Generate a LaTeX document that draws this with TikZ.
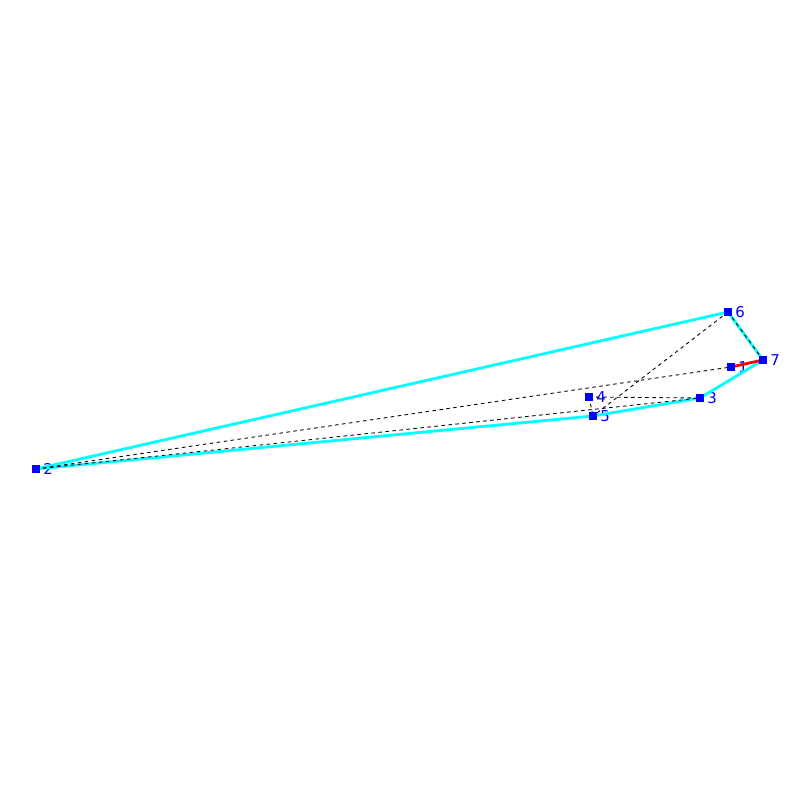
\documentclass[tikz,border=0pt]{standalone}
\usepackage{fontspec}
\setmainfont{DejaVu Sans}
\usepackage{tikz}
\usetikzlibrary{positioning}
\definecolor{hullcyan}{RGB}{0,255,255}

\begin{document}
\begin{tikzpicture}[x=0.02cm,y=-0.02cm,
  vertex/.style={fill=blue,minimum size=0.16cm,inner sep=0pt},
  num/.style={text=blue,font=\fontsize{8.5}{8.5}\selectfont,inner sep=0pt},
  hull/.style={hullcyan,line width=1.6pt},
  chosen/.style={red,line width=1.6pt},
  hint/.style={dashed,line width=0.5pt,dash pattern=on 2pt off 2pt},
  every label/.style={num},label distance=1.5pt]
\useasboundingbox (0,0) rectangle (800,800);
\node[vertex,label=right:1] (v1) at (731,367) {};
\node[vertex,label=right:2] (v2) at (36,469) {};
\node[vertex,label=right:3] (v3) at (700,398) {};
\node[vertex,label=right:4] (v4) at (589,397) {};
\node[vertex,label=right:5] (v5) at (593,416) {};
\node[vertex,label=right:6] (v6) at (728,312) {};
\node[vertex,label=right:7] (v7) at (763,360) {};
% outer boundary
\draw[hull] (v2.center) -- (v6.center) -- (v7.center) -- (v3.center) -- (v5.center) -- cycle;
\draw[chosen] (v1.center) -- (v7.center);
% dashed diagonals
\draw[hint] (v2.center) -- (v1.center);
\draw[hint] (v2.center) -- (v3.center);
\draw[hint] (v4.center) -- (v3.center);
\draw[hint] (v4.center) -- (v5.center);
\draw[hint] (v6.center) -- (v5.center);
\draw[hint] (v6.center) -- (v7.center);
\foreach \v in {1,...,7} \node[vertex] at (v\v) {};
\end{tikzpicture}
\end{document}
